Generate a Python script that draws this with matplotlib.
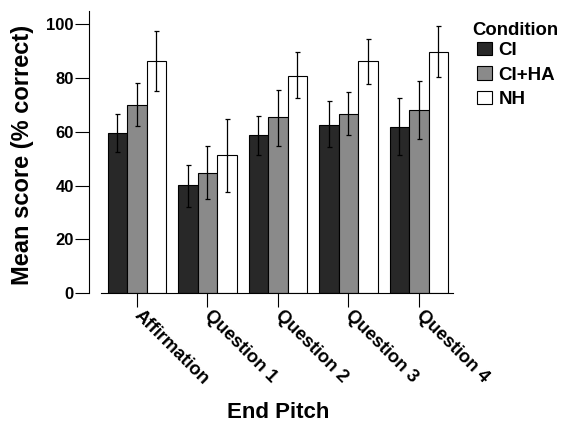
import numpy as np
import matplotlib
matplotlib.use('Agg')
import matplotlib.pyplot as plt

plt.rcParams['font.family'] = ['Liberation Sans', 'DejaVu Sans']
plt.rcParams['font.weight'] = 'bold'

pitches = ['Affirmation', 'Question 1', 'Question 2', 'Question 3', 'Question 4']
conditions = ['CI', 'CI+HA', 'NH']

# mean scores per condition
ci_mean = [59.7, 40.1, 58.7, 62.6, 61.8]
ciha_mean = [69.9, 44.6, 65.4, 66.7, 68.0]
nh_mean = [86.4, 51.4, 80.8, 86.4, 89.8]

# error bar ends (upper / lower)
ci_hi = [66.7, 47.8, 66.0, 71.3, 72.4]
ci_lo = [52.5, 32.2, 51.5, 54.3, 51.3]
ciha_hi = [78.1, 54.6, 75.7, 74.7, 78.9]
ciha_lo = [62.1, 34.9, 54.9, 58.7, 57.5]
nh_hi = [97.5, 64.6, 89.5, 94.5, 99.5]
nh_lo = [75.3, 37.8, 72.4, 77.9, 80.4]

colors = ['#282828', '#8a8a8a', '#ffffff']

fig = plt.figure(figsize=(5.61, 4.23), dpi=100)
ax = fig.add_axes([0.1586, 0.3066, 0.651, 0.668])

x = np.arange(len(pitches))
width = 0.277
means = [ci_mean, ciha_mean, nh_mean]
his = [ci_hi, ciha_hi, nh_hi]
los = [ci_lo, ciha_lo, nh_lo]

for i, cond in enumerate(conditions):
    m = np.array(means[i])
    err = [m - np.array(los[i]), np.array(his[i]) - m]
    ax.bar(x + (i - 1) * width, m, width, color=colors[i], edgecolor='black',
           linewidth=0.8, label=cond, zorder=2)
    ax.errorbar(x + (i - 1) * width, m, yerr=err, fmt='none', ecolor='black',
                elinewidth=0.9, capsize=1.8, capthick=0.9, zorder=3)

ax.set_xlim(-0.68, 4.5)
ax.set_ylim(0, 105)
ax.set_yticks([0, 20, 40, 60, 80, 100])
ax.set_xticks(x)
ax.set_xticklabels(pitches, rotation=-45, ha='left', va='center',
                   rotation_mode='anchor', fontsize=13.2)
ax.tick_params(axis='both', length=10, width=0.8, direction='out')
ax.tick_params(axis='y', labelsize=12, pad=1)
ax.tick_params(axis='x', pad=4)

ax.spines['top'].set_visible(False)
ax.spines['right'].set_visible(False)
ax.spines['bottom'].set_bounds(-0.51, 4.48)
ax.spines['left'].set_linewidth(0.8)
ax.spines['bottom'].set_linewidth(0.8)

ax.set_ylabel('Mean score (% correct)', fontsize=17, fontweight='bold')
ax.yaxis.set_label_coords(-0.15, 0.49)
ax.set_xlabel('End Pitch', fontsize=16, fontweight='bold', va='baseline')
ax.xaxis.set_label_coords(0.519, -0.441)

fig.text(472 / 561, 1 - 35 / 423, 'Condition', fontsize=13.3, fontweight='bold',
         ha='left', va='baseline')
leg = fig.legend(loc='upper left', bbox_to_anchor=(477 / 561, 1 - 42 / 423), frameon=False,
                 fontsize=13.5, borderpad=0, borderaxespad=0,
                 handlelength=0.8, handleheight=0.7, handletextpad=0.35,
                 labelspacing=0.39)

fig.savefig('out.png', dpi=100)
